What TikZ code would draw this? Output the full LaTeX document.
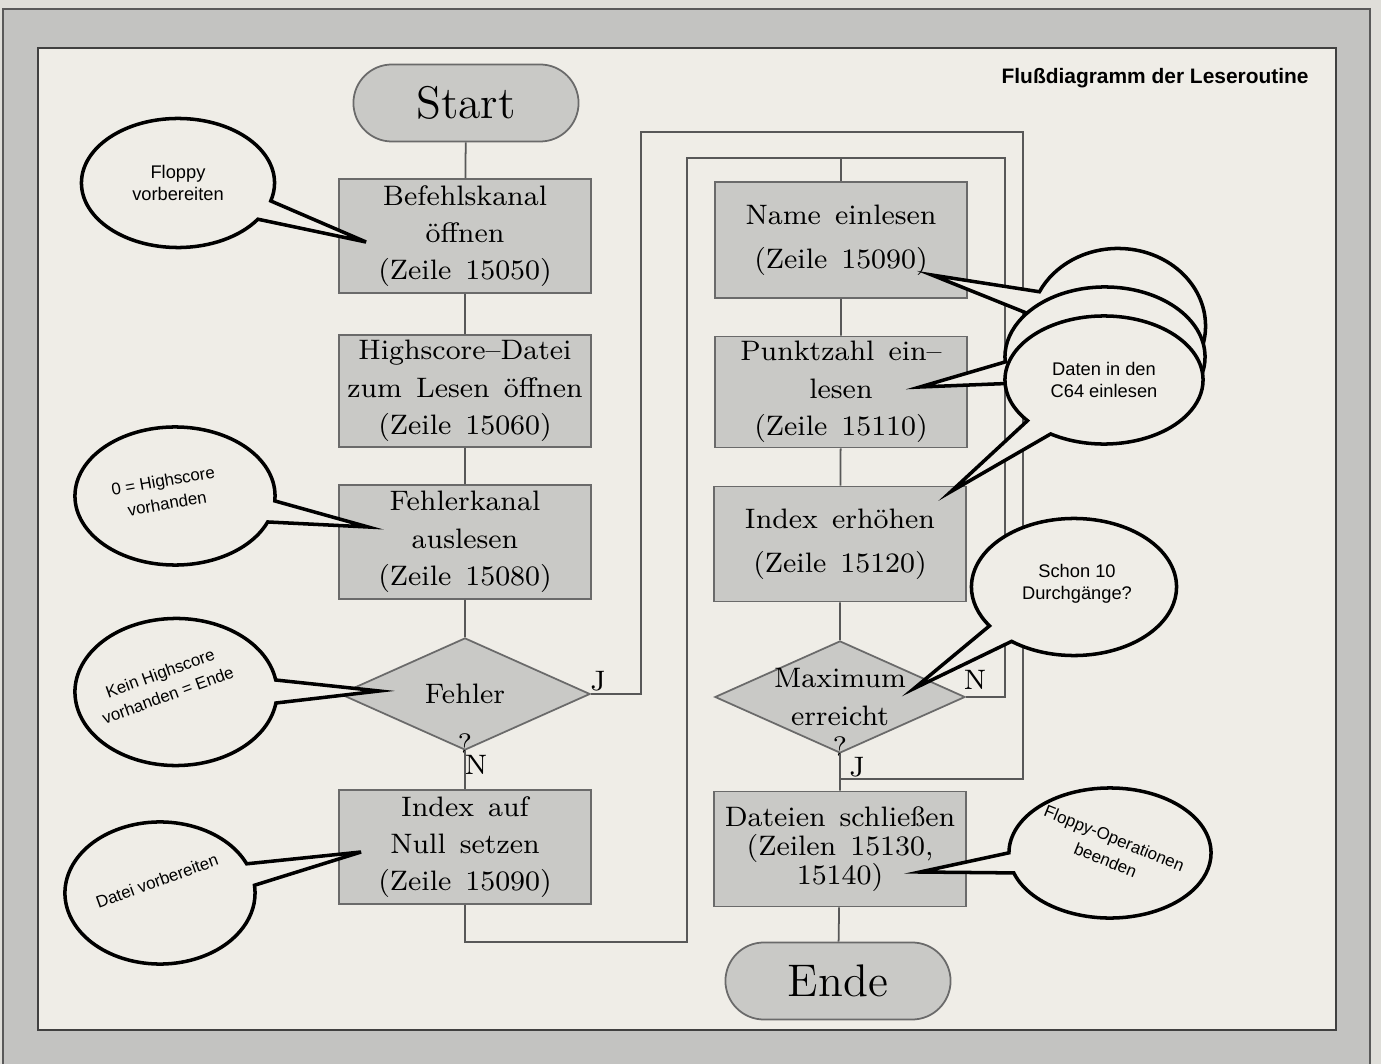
\documentclass[tikz,border=0pt]{standalone}
\usepackage{fontspec}
\usepackage{tikz}
\usetikzlibrary{shapes.geometric,shapes.callouts}
\newfontfamily\bubblefont{Liberation Sans}
\definecolor{outside}{HTML}{DFDED9}
\definecolor{frame}{HTML}{C3C3C1}
\definecolor{paper}{HTML}{EFEDE7}
\definecolor{boxgrey}{HTML}{C9C9C6}
\definecolor{boxline}{HTML}{6A6A6A}
\definecolor{lineclr}{HTML}{585858}
\newcommand{\boxfont}{\fontsize{8}{10.6}\selectfont\spaceskip=.5em plus .1em\relax}
\tikzset{%
    flowbox/.style={
        draw=boxline, fill=boxgrey, line width=.5pt,
        minimum width=2.52cm, minimum height=1.14cm,
        inner sep=0pt, align=center, font=\boxfont
    }
}
\tikzset{terminal/.style={rectangle, rounded corners=.385cm, draw=boxline, fill=boxgrey, line width=.5pt, minimum width=2.25cm, minimum height=.77cm, font=\fontsize{13}{15}\selectfont}}
\tikzset{decision/.style={diamond, draw=boxline, fill=boxgrey, line width=.5pt, minimum width=2.5cm, minimum height=1.12cm, inner sep=0pt}}
\tikzset{every label/.style={font=\boxfont, inner sep=0pt, align=center}}
\tikzset{flowline/.style={draw=lineclr, line width=.5pt}}
\tikzset{yesno/.style={font=\boxfont, inner sep=1pt}}
\tikzset{%
    bubble/.style={
        ellipse callout, draw=black, line width=1pt, fill=paper,
        callout pointer arc=18, inner sep=0pt
    }
}
\tikzset{bubbletext/.style={font=\bubblefont\fontsize{5.2}{6.3}\selectfont, align=center, inner sep=0pt}}
\tikzset{smalltext/.style={font=\bubblefont\fontsize{4.8}{6.6}\selectfont, align=center, inner sep=0pt}}

\begin{document}
\begin{tikzpicture}[x=0.01cm, y=-0.01cm]
    % page, grey frame and panel
    \useasboundingbox (0,0) rectangle (1381,1064);
    \fill[outside] (0,0) rectangle (1381,1064);
    \filldraw[fill=frame, draw=black!65, line width=.4pt] (3,9) rectangle (1370,1075);
    \filldraw[fill=paper, draw=black!75, line width=.6pt] (38,48) rectangle (1336,1030);

    \node[anchor=east, font=\bubblefont\bfseries\fontsize{5.95}{7}\selectfont] (title) at (1321,78) {Flußdiagramm der Leseroutine};

    % left column
    \node[terminal] (start) at (466,103) {Start};
    \node[flowbox] (befehl) at (465,236) {Befehlskanal\\öffnen\\(Zeile 15050)};
    \node[flowbox, minimum height=1.12cm] (hsdatei) at (465,391) {Highscore--Datei\\zum Lesen öffnen\\(Zeile 15060)};
    \node[flowbox] (fkanal) at (465,542) {Fehlerkanal\\auslesen\\(Zeile 15080)};
    \node[decision, label=center:Fehler, label={[yshift=5pt]south:?}] (fehler) at (465,694) {};
    \node[flowbox] (nullidx) at (465,847) {Index auf\\Null setzen\\(Zeile 15090)};

    % right column
    \node[flowbox, minimum height=1.16cm] (name) at (841,240) {Name einlesen\\[2pt](Zeile 15090)};
    \node[flowbox, minimum height=1.11cm] (punkt) at (841,392) {Punktzahl ein--\\lesen\\(Zeile 15110)};
    \node[flowbox, minimum height=1.15cm] (idxup) at (840,544) {Index erhöhen\\[2pt](Zeile 15120)};
    \node[decision, label={center:Maximum\\erreicht}, label={[yshift=5pt]south:?}] (maximum) at (840,697) {};
    \node[flowbox, minimum height=1.15cm] (dateien) at (840,849) {Dateien schließen\\[-2.4pt](Zeilen 15130,\\[-2.4pt]15140)};
    \node[terminal] (ende) at (838,981) {Ende};

    \coordinate (nullfoot) at (687,942);
    \coordinate (innerleft) at (687,158);	\coordinate (innerright) at (1005,158);
    \coordinate (outerleft) at (641,132);	\coordinate (outerright) at (1023,132);
    \coordinate (yesjoin) at (840,779);

    \draw[flowline] (start) -- (befehl) -- (hsdatei) -- (fkanal) -- (fehler) -- (nullidx);
    \draw[flowline] (name) -- (punkt) -- (idxup) -- (maximum) -- (dateien) -- (ende);
    \draw[flowline] (nullidx) |- (nullfoot) -- (innerleft) -| (name);
    \draw[flowline] (maximum) -| (innerright) -- (innerleft);
    \draw[flowline] (fehler) -| (outerleft) -- (outerright) |- (yesjoin);

    \node[yesno] (fehlerj) at (598,681) {J};
    \node[yesno] (fehlern) at (476,765) {N};
    \node[yesno] (maxn) at (975,680) {N};
    \node[yesno] (maxj) at (857,767) {J};

    % speech bubbles
    \node[bubble, minimum width=1.93cm, minimum height=1.29cm,
        callout absolute pointer={([xshift=.28cm,yshift=-.06cm]befehl.west)},
        label={[bubbletext]center:Floppy\\vorbereiten}] (floppy) at (178,183) {};
    \node[bubble, minimum width=2cm, minimum height=1.38cm,
        callout absolute pointer={([xshift=.3cm,yshift=.15cm]fkanal.west)},
        label={[smalltext, xshift=-.1cm, yshift=.04cm, rotate=10]center:0 = Highscore\\vorhanden}] (nullhs) at (175,496) {};
    \node[bubble, minimum width=2.02cm, minimum height=1.47cm,
        callout absolute pointer={([xshift=.4cm,yshift=.03cm]fehler.west)},
        label={[smalltext, xshift=-.12cm, yshift=.08cm, rotate=20]center:Kein Highscore\\vorhanden = Ende}] (keinhs) at (176,692) {};
    \node[bubble, minimum width=1.9cm, minimum height=1.42cm,
        callout absolute pointer={([xshift=.23cm,yshift=-.05cm]nullidx.west)},
        label={[smalltext, xshift=-.03cm, yshift=.12cm, rotate=20]center:Datei vorbereiten}] (datei) at (160,893) {};

    \node[bubble, minimum width=1.75cm, minimum height=1.55cm,
        callout absolute pointer={([xshift=-.36cm,yshift=-.35cm]name.east)}] (datenc) at (1118,326) {};
    \node[bubble, minimum width=2cm, minimum height=1.4cm,
        callout absolute pointer={([xshift=-.48cm,yshift=.05cm]punkt.east)}] (datenb) at (1105,357) {};
    \node[bubble, minimum width=1.98cm, minimum height=1.28cm,
        callout absolute pointer={([xshift=-.16cm,yshift=-.06cm]idxup.north east)},
        label={[bubbletext]center:Daten in den\\C64 einlesen}] (datena) at (1104,380) {};

    \node[bubble, minimum width=2.05cm, minimum height=1.37cm,
        callout absolute pointer={([xshift=.11cm,yshift=-.2cm]maximum.north east)},
        label={[bubbletext, xshift=.03cm, yshift=.03cm]center:Schon 10\\Durchgänge?}] (schon) at (1074,587) {};
    \node[bubble, minimum width=2.02cm, minimum height=1.3cm,
        callout absolute pointer={([xshift=-.47cm,yshift=-.23cm]dateien.east)},
        label={[smalltext, yshift=.04cm, rotate=-22]center:Floppy-Operationen\\beenden}] (floppyop) at (1110,853) {};
\end{tikzpicture}
\end{document}
